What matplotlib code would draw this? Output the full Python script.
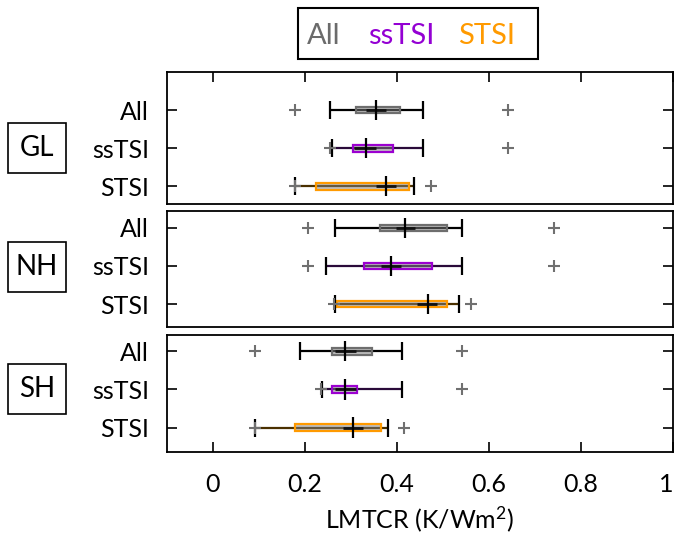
import matplotlib
matplotlib.use('Agg')
import matplotlib.pyplot as plt
from matplotlib.patches import Rectangle

plt.rcParams['font.family'] = ['Lato', 'DejaVu Sans']
plt.rcParams['mathtext.fontset'] = 'custom'
plt.rcParams['mathtext.rm'] = 'Lato'
plt.rcParams['mathtext.it'] = 'Lato:italic'

regions = ['GL', 'NH', 'SH']
methods = ['All', 'ssTSI', 'STSI']

# rows: region, columns: method (All, ssTSI, STSI)
whisk_lo = [[0.254, 0.259, 0.178], [0.266, 0.246, 0.266], [0.189, 0.236, 0.091]]
q1 = [[0.311, 0.304, 0.223], [0.362, 0.328, 0.269], [0.259, 0.259, 0.179]]
median = [[0.354, 0.333, 0.376], [0.418, 0.386, 0.467], [0.286, 0.286, 0.304]]
q3 = [[0.406, 0.392, 0.427], [0.509, 0.475, 0.509], [0.345, 0.312, 0.366]]
whisk_hi = [[0.457, 0.457, 0.437], [0.541, 0.541, 0.534], [0.411, 0.411, 0.381]]
ci_lo = [[0.332, 0.307, 0.355], [0.397, 0.365, 0.444], [0.265, 0.265, 0.283]]
ci_hi = [[0.375, 0.354, 0.397], [0.440, 0.408, 0.488], [0.310, 0.310, 0.326]]
outliers = [[[0.178, 0.641], [0.254, 0.641], [0.178, 0.474]],
            [[0.207, 0.741], [0.207, 0.741], [0.264, 0.560]],
            [[0.091, 0.542], [0.235, 0.542], [0.091, 0.415]]]

edge_colors = ['#6e6e6e', '#9b00d0', '#ff9a00']
line_colors = ['#000000', '#2a0a3a', '#4a3000']
legend_colors = ['#6b6b6b', '#9400d3', '#ff9a00']

W, H = 676, 545
fig = plt.figure(figsize=(W / 100, H / 100), dpi=100)

# panel placement in pixels (top, bottom)
panels_px = [(72, 204), (211, 327), (335, 452)]
ylims = [(3.47, 0.0), (3.605, 0.553), (3.63, 0.579)]
left_px, right_px = 167, 673
label_rows = [148, 267, 389]

for r, region in enumerate(regions):
    top, bot = panels_px[r]
    ax = fig.add_axes([left_px / W, 1 - bot / H, (right_px - left_px) / W, (bot - top) / H])
    ax.set_xlim(-0.1, 1.0)
    ax.set_ylim(*ylims[r])
    for m in range(3):
        y = m + 1
        lc = line_colors[m]
        ax.hlines(y, whisk_lo[r][m], whisk_hi[r][m], color=lc, lw=1.6, zorder=2)
        ax.vlines([whisk_lo[r][m], whisk_hi[r][m]], y - 0.23, y + 0.23, color='black', lw=1.6, zorder=4)
        ax.add_patch(Rectangle((q1[r][m], y - 0.09), q3[r][m] - q1[r][m], 0.18,
                               facecolor='#808080', alpha=0.5, edgecolor='none', zorder=3))
        ax.add_patch(Rectangle((q1[r][m], y - 0.09), q3[r][m] - q1[r][m], 0.18,
                               facecolor='none', edgecolor=edge_colors[m], lw=1.6, zorder=3))
        ax.hlines(y, ci_lo[r][m], ci_hi[r][m], color='#111111', lw=2.0, zorder=4)
        ax.vlines(median[r][m], y - 0.27, y + 0.27, color='black', lw=1.6, zorder=5)
        ax.plot(outliers[r][m], [y] * len(outliers[r][m]), ls='none', marker='+',
                ms=9, mew=1.5, color='#707070', zorder=6)

    ax.set_yticks([1, 2, 3])
    ax.set_yticklabels(methods, fontsize=18)
    ax.tick_params(axis='y', direction='in', length=7.5, width=1.2, pad=13,
                   left=True, right=True, labelleft=True)
    ax.set_xticks([0, 0.2, 0.4, 0.6, 0.8, 1.0])
    if r == 0:
        ax.tick_params(axis='x', direction='in', length=7.5, width=1.2,
                       top=True, bottom=False, labelbottom=False, labeltop=False)
    elif r == 2:
        ax.tick_params(axis='x', direction='in', length=7.5, width=1.2, pad=15,
                       top=False, bottom=True, labelbottom=True, labelsize=18)
        ax.set_xticklabels(['0', '0.2', '0.4', '0.6', '0.8', '1'])
        ax.get_xticklabels()[-1].set_horizontalalignment('right')
        ax.set_xlabel('LMTCR (K/Wm$^2$)', fontsize=18, labelpad=6)
    else:
        ax.tick_params(axis='x', bottom=False, top=False, labelbottom=False)
    for s in ax.spines.values():
        s.set_linewidth(1.3)

    # region label box, centred on the middle row
    yc = label_rows[r]
    fig.patches.append(Rectangle((8 / W, 1 - (yc + 25) / H), 58 / W, 50 / H, transform=fig.transFigure,
                                 facecolor='white', edgecolor='black', lw=1.2))
    fig.text(37 / W, 1 - yc / H, region, fontsize=20, ha='center', va='center')

# legend box at top
fig.patches.append(Rectangle((298 / W, 1 - 59 / H), 240 / W, 51 / H, transform=fig.transFigure,
                             facecolor='white', edgecolor='black', lw=1.5))
leg_x = [324, 401, 487]
for m in range(3):
    fig.text(leg_x[m] / W, 1 - 36 / H, methods[m], fontsize=21, color=legend_colors[m],
             ha='center', va='center')

fig.savefig('out.png', dpi=100)
